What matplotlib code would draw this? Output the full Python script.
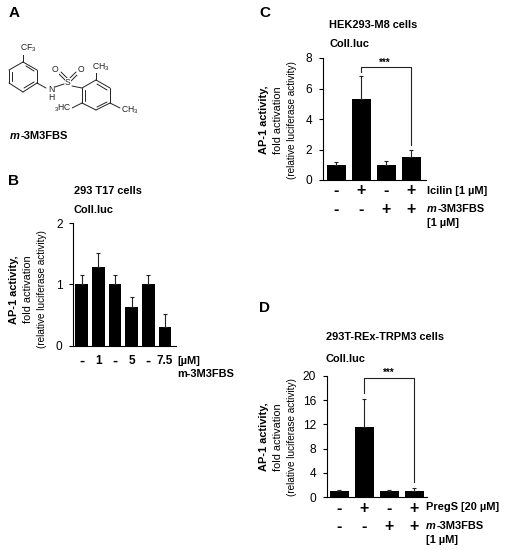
import matplotlib
matplotlib.use("Agg")
from matplotlib import pyplot as plt

plt.rcParams['font.family'] = ['Liberation Sans', 'DejaVu Sans']
plt.rcParams['mathtext.fontset'] = 'custom'
plt.rcParams['mathtext.rm'] = 'Liberation Sans'
plt.rcParams['mathtext.bf'] = 'Liberation Sans:bold'
plt.rcParams['mathtext.it'] = 'Liberation Sans:italic'

W, H = 507, 550

# panel B
b_values = [1.0, 1.28, 1.0, 0.63, 1.0, 0.31]
b_errors = [0.15, 0.23, 0.15, 0.16, 0.15, 0.21]
b_labels = ['-', '1', '-', '5', '-', '7.5']
b_ticks = [0, 1, 2]

# panel C
c_values = [1.0, 5.3, 1.0, 1.5]
c_errors = [0.2, 1.5, 0.22, 0.5]
c_row1 = ['-', '+', '-', '+']
c_row2 = ['-', '-', '+', '+']
c_ticks = [0, 2, 4, 6, 8]

# panel D
d_values = [1.0, 11.5, 1.0, 1.05]
d_errors = [0.2, 4.7, 0.2, 0.4]
d_row1 = ['-', '+', '-', '+']
d_row2 = ['-', '-', '+', '+']
d_ticks = [0, 4, 8, 12, 16, 20]

# structure of m-3M3FBS, positions in pixels of the picture
bonds = [
    ((23, 62), (37, 70)), ((37, 70), (37, 83)), ((37, 83), (23, 92)),
    ((23, 92), (9, 83)), ((9, 83), (9, 70)), ((9, 70), (23, 62)),
    ((26, 66), (34, 71)), ((34, 82), (24, 88)), ((12, 81), (12, 72)),
    ((23, 62), (23, 53)), ((37, 83), (46, 88)), ((55, 87), (64, 84)),
    ((72, 86), (82, 88)),
    ((82, 88), (96, 80)), ((96, 80), (110, 88)), ((110, 88), (110, 103)),
    ((110, 103), (96, 110)), ((96, 110), (82, 103)), ((82, 103), (82, 88)),
    ((97, 84), (107, 90)), ((107, 102), (97, 107)), ((85, 101), (85, 90)),
    ((96, 80), (96, 72)), ((110, 103), (120, 108)), ((82, 103), (72, 108)),
    ((59, 74), (66, 81)), ((61, 72), (68, 79)), ((78, 74), (71, 81)), ((76, 72), (69, 79)),
]
atoms = [
    (28, 48.5, 'CF$_3$'), (51, 89, 'N'), (51, 97.5, 'H'), (68, 82.5, 'S'),
    (55, 70, 'O'), (80.5, 70, 'O'), (101, 67, 'CH$_3$'), (130, 110.5, 'CH$_3$'),
    (63, 108.5, '$_3$HC'),
]

fig = plt.figure(figsize=(W / 100, H / 100), dpi=100)
page = fig.add_axes([0, 0, 1, 1])
page.set_xlim(0, W)
page.set_ylim(H, 0)
page.axis('off')


def make_axes(left, right, top, bottom, ymax, ticks):
    ax = fig.add_axes([left / W, 1 - bottom / H, (right - left) / W, (bottom - top) / H])
    ax.set_xlim(left, right)
    ax.set_ylim(0, ymax)
    ax.patch.set_alpha(0)
    ax.spines['top'].set_visible(False)
    ax.spines['right'].set_visible(False)
    ax.spines['left'].set_linewidth(0.8)
    ax.spines['bottom'].set_linewidth(0.8)
    ax.set_xticks([])
    ax.set_yticks(ticks)
    ax.tick_params(axis='y', length=3, width=0.8, labelsize=8.6, pad=4.5)
    return ax


def draw_bars(ax, centers, values, errors, width):
    ax.bar(centers, values, width=width, color='black')
    ax.errorbar(centers, values, yerr=[[0] * len(errors), errors], fmt='none',
                ecolor='#222222', elinewidth=0.8, capsize=1.6, capthick=0.8)


def ylabel(x, y):
    page.text(x - 14, y, 'AP-1 activity,', rotation=90, ha='center', va='center',
              fontsize=7.9, fontweight='bold')
    page.text(x, y, 'fold activation', rotation=90, ha='center', va='center', fontsize=7.9)
    page.text(x + 14, y, '(relative luciferase activity)', rotation=90, ha='center',
              va='center', fontsize=7.2)


def bold(x, y, s, size=7.9, **kw):
    page.text(x, y, s, fontsize=size, fontweight='bold', va='center', **kw)


def signs(centers, y, row):
    for cx, s in zip(centers, row):
        page.text(cx, y, s, fontsize=11.5, fontweight='bold', ha='center', va='center')


# A
bold(9, 13, 'A', size=11)
for (x0, y0), (x1, y1) in bonds:
    page.plot([x0, x1], [y0, y1], color='#222222', lw=0.7, solid_capstyle='round')
for x, y, s in atoms:
    page.text(x, y, s, fontsize=6.2, color='#222222', ha='center', va='center',
              bbox=dict(facecolor='white', edgecolor='none', pad=0.3))
page.text(9.5, 136, 'm', fontsize=8, fontweight='bold', style='italic', va='center')
bold(20.5, 136, '-3M3FBS', size=8)

# B
bold(8, 181, 'B', size=11)
bold(74, 190.5, '293 T17 cells')
bold(74, 210, 'Coll.luc')
ax_b = make_axes(73, 176, 223, 345.5, 2, b_ticks)
b_centers = [81.7, 98.3, 115, 131.7, 148.3, 165]
draw_bars(ax_b, b_centers, b_values, b_errors, 12.7)
ylabel(28, 289.5)
for cx, s in zip(b_centers, b_labels):
    bold(cx, 361, s, size=8.5 if s != '-' else 11, ha='center')
bold(177, 361, '[\u00b5M]')
bold(177, 374, 'm-3M3FBS')

# C
bold(259, 13, 'C', size=11)
bold(329, 25, 'HEK293-M8 cells')
bold(329, 44, 'Coll.luc')
ax_c = make_axes(322.5, 426, 58, 180, 8, c_ticks)
c_centers = [336, 361, 386, 411]
draw_bars(ax_c, c_centers, c_values, c_errors, 19)
ax_c.plot([361, 361, 411, 411], [7.1, 7.43, 7.43, 2.3], color='#222222', lw=0.8)
ylabel(278, 120)
page.text(385, 62.5, '***', fontsize=7, fontweight='bold', ha='center', va='center')
signs(c_centers, 191, c_row1)
signs(c_centers, 209.5, c_row2)
bold(427, 190.5, 'Icilin [1 \u00b5M]')
page.text(427, 209, 'm', fontsize=7.9, fontweight='bold', style='italic', va='center')
bold(437.5, 209, '-3M3FBS')
bold(427, 223, '[1 \u00b5M]')

# D
bold(259, 308, 'D', size=11)
bold(326, 337, '293T-REx-TRPM3 cells')
bold(326, 359.5, 'Coll.luc')
ax_d = make_axes(326.5, 426.5, 376, 497, 20, d_ticks)
d_centers = [339.3, 364, 389, 414]
draw_bars(ax_d, d_centers, d_values, d_errors, 19)
ax_d.plot([364, 364, 414, 414], [17.2, 19.67, 19.67, 2.4], color='#222222', lw=0.8)
ylabel(278, 437)
page.text(389, 373, '***', fontsize=7, fontweight='bold', ha='center', va='center')
signs(d_centers, 508, d_row1)
signs(d_centers, 526, d_row2)
bold(426, 507.5, 'PregS [20 \u00b5M]')
page.text(426, 526, 'm', fontsize=7.9, fontweight='bold', style='italic', va='center')
bold(436.5, 526, '-3M3FBS')
bold(426, 540, '[1 \u00b5M]')

fig.savefig('out.png', dpi=100)
